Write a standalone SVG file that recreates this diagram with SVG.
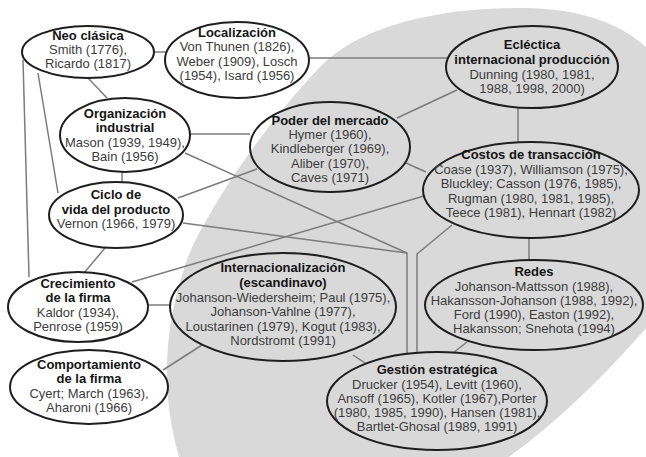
<svg xmlns="http://www.w3.org/2000/svg" width="646" height="457" viewBox="0 0 646 457">
<style>
  .bg{fill:#d9d9d9;stroke:none}
  .n{fill:#ffffff;stroke:#1e1e1e;stroke-width:2}
  .g{fill:none;stroke:#1e1e1e;stroke-width:2}
  .c{fill:none;stroke:#7c7c7c;stroke-width:1.5}
  text{font-family:"Liberation Sans",Arial,sans-serif;font-size:13px;text-anchor:middle;fill:#3c3c3c}
  .t{font-weight:bold;fill:#141414}
</style>
<rect x="0" y="0" width="646" height="457" fill="#ffffff"/>
<path class="bg" d="M 183,470 C 160,400 162,330 187,260 C 200,224 255,135 320,67 C 360,25 440,8 520,8 C 600,8 665,35 690,120 C 715,200 690,280 640,335 C 600,380 550,430 490,470 Z"/>
<g id="connectors">
  <line class="c" x1="154" y1="52" x2="166" y2="52"/>
  <line class="c" x1="309" y1="58" x2="448" y2="58"/>
  <line class="c" x1="88" y1="78" x2="107" y2="98"/>
  <line class="c" x1="38" y1="73" x2="58" y2="193"/>
  <line class="c" x1="23" y1="60" x2="29" y2="277"/>
  <line class="c" x1="122" y1="172" x2="122" y2="182"/>
  <line class="c" x1="190" y1="134" x2="250" y2="134"/>
  <polyline class="c" points="185,153 407,253 407,353"/>
  <line class="c" x1="178" y1="198" x2="257" y2="169"/>
  <line class="c" x1="183" y1="223" x2="407" y2="253"/>
  <line class="c" x1="132" y1="282" x2="424" y2="196"/>
  <line class="c" x1="397" y1="118" x2="457" y2="90"/>
  <line class="c" x1="406" y1="163" x2="426" y2="172"/>
  <line class="c" x1="518" y1="108" x2="518" y2="143"/>
  <line class="c" x1="529" y1="238" x2="529" y2="260"/>
  <polyline class="c" points="452,225 417,254 417,353"/>
  <line class="c" x1="467" y1="342" x2="453" y2="353"/>
  <line class="c" x1="353" y1="355" x2="365" y2="363"/>
  <line class="c" x1="148" y1="305" x2="171" y2="305"/>
  <line class="c" x1="163" y1="370" x2="202" y2="345"/>
  <line class="c" x1="105" y1="248" x2="84" y2="273"/>
</g>
<g id="neoclasica">
  <ellipse class="n" cx="88" cy="52" rx="66" ry="26"/>
  <text class="t" x="88" y="40">Neo clásica</text>
  <text x="88" y="54">Smith (1776),</text>
  <text x="88" y="68">Ricardo (1817)</text>
</g>
<g id="localizacion">
  <ellipse class="n" cx="237" cy="60" rx="72" ry="38"/>
  <text class="t" x="237" y="37">Localización</text>
  <text x="237" y="51">Von Thunen (1826),</text>
  <text x="237" y="66">Weber (1909), Losch</text>
  <text x="237" y="80">(1954), Isard (1956)</text>
</g>
<g id="organizacion">
  <ellipse class="n" cx="125" cy="135" rx="65" ry="37"/>
  <text class="t" x="125" y="118">Organización</text>
  <text class="t" x="125" y="132">industrial</text>
  <text x="125" y="147">Mason (1939, 1949),</text>
  <text x="125" y="161">Bain (1956)</text>
</g>
<g id="ciclo">
  <ellipse class="n" cx="116" cy="215" rx="67" ry="33"/>
  <text class="t" x="116" y="199">Ciclo de</text>
  <text class="t" x="116" y="214">vida del producto</text>
  <text x="116" y="228">Vernon (1966, 1979)</text>
</g>
<g id="crecimiento">
  <ellipse class="n" cx="78" cy="307" rx="70" ry="35"/>
  <text class="t" x="78" y="288">Crecimiento</text>
  <text class="t" x="78" y="302">de la firma</text>
  <text x="78" y="317">Kaldor (1934),</text>
  <text x="78" y="331">Penrose (1959)</text>
</g>
<g id="comportamiento">
  <ellipse class="n" cx="89" cy="387" rx="79" ry="37"/>
  <text class="t" x="89" y="369">Comportamiento</text>
  <text class="t" x="89" y="383">de la firma</text>
  <text x="89" y="398">Cyert; March (1963),</text>
  <text x="89" y="412">Aharoni (1966)</text>
</g>
<g id="poder">
  <ellipse class="g" cx="330" cy="147" rx="80" ry="45"/>
  <text class="t" x="330" y="125">Poder del mercado</text>
  <text x="330" y="139">Hymer (1960),</text>
  <text x="330" y="153">Kindleberger (1969),</text>
  <text x="330" y="168">Aliber (1970),</text>
  <text x="330" y="182">Caves (1971)</text>
</g>
<g id="eclectica">
  <ellipse class="g" cx="532" cy="67" rx="86" ry="41"/>
  <text class="t" x="532" y="49">Ecléctica</text>
  <text class="t" x="532" y="64">internacional producción</text>
  <text x="532" y="79">Dunning (1980, 1981,</text>
  <text x="532" y="93">1988, 1998, 2000)</text>
</g>
<g id="costos">
  <ellipse class="g" cx="531" cy="190" rx="108" ry="48"/>
  <text class="t" x="531" y="159">Costos de transacción</text>
  <text x="531" y="174">Coase (1937), Williamson (1975),</text>
  <text x="531" y="188">Bluckley; Casson (1976, 1985),</text>
  <text x="531" y="203">Rugman (1980, 1981, 1985),</text>
  <text x="531" y="217">Teece (1981), Hennart (1982)</text>
</g>
<g id="redes">
  <ellipse class="g" cx="534" cy="305" rx="109" ry="45"/>
  <text class="t" x="534" y="276">Redes</text>
  <text x="534" y="291">Johanson-Mattsson (1988),</text>
  <text x="534" y="305">Hakansson-Johanson (1988, 1992),</text>
  <text x="534" y="319">Ford (1990), Easton (1992),</text>
  <text x="534" y="333">Hakansson; Snehota (1994)</text>
</g>
<g id="internacionalizacion">
  <ellipse class="g" cx="283" cy="307" rx="113" ry="54"/>
  <text class="t" x="283" y="272">Internacionalización</text>
  <text class="t" x="283" y="287">(escandinavo)</text>
  <text x="283" y="302">Johanson-Wiedersheim; Paul (1975),</text>
  <text x="283" y="316">Johanson-Vahlne (1977),</text>
  <text x="283" y="331">Loustarinen (1979), Kogut (1983),</text>
  <text x="283" y="345">Nordstromt (1991)</text>
</g>
<g id="gestion">
  <ellipse class="g" cx="437" cy="401" rx="110" ry="49"/>
  <text class="t" x="437" y="374">Gestión estratégica</text>
  <text x="437" y="389">Drucker (1954), Levitt (1960),</text>
  <text x="437" y="403">Ansoff (1965), Kotler (1967),Porter</text>
  <text x="437" y="417">(1980, 1985, 1990), Hansen (1981),</text>
  <text x="437" y="431">Bartlet-Ghosal (1989, 1991)</text>
</g>
</svg>
